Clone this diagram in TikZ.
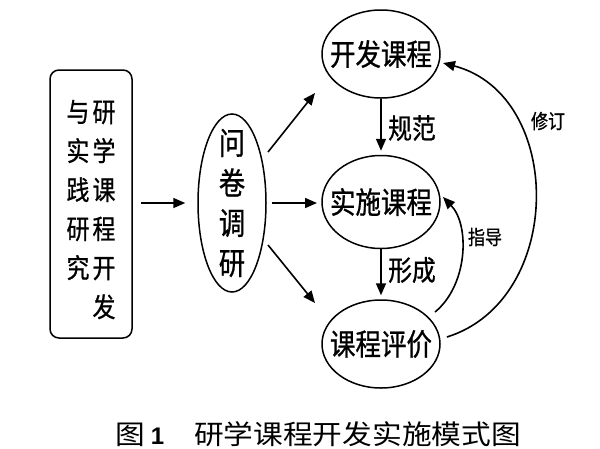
\documentclass[tikz,border=0pt]{standalone}
\usepackage{fontspec}
\setmainfont{Noto Sans CJK SC}[FakeStretch=0.85,UprightFeatures={FakeBold=0.8}]
\newfontfamily\capfont{Noto Sans CJK SC}[FakeStretch=1.1]
\newfontfamily\numfont{Liberation Sans}
\usetikzlibrary{shapes.geometric,arrows.meta,calc}
\begin{document}
\begin{tikzpicture}[x=1pt,y=-1pt,
  oval/.style={draw,ellipse,line width=1.5pt,inner sep=0pt,minimum width=118pt,minimum height=90pt},
  ovaltext/.style={inner sep=0pt,font=\fontsize{30}{36}\selectfont},
  coltext/.style={inner sep=0pt,align=center,font=\fontsize{27}{39}\selectfont},
  biglbl/.style={inner sep=0pt,font=\fontsize{28}{34}\selectfont},
  smalllbl/.style={inner sep=0pt,font=\fontsize{20}{24}\selectfont},
  arr/.style={line width=1.6pt,-{Triangle[length=12pt,width=10pt]}}]
\useasboundingbox (0,0) rectangle (600,448);
\fill[white] (0,0) rectangle (600,448);
% left box
\node[draw,rounded corners=9pt,line width=1.5pt,minimum width=82pt,minimum height=268pt,inner sep=0pt] (box) at (91,204) {};
\node[coltext] (colR) at (104,210) {研\\学\\课\\程\\开\\发};
\node[coltext] (colL) at (78,190) {与\\实\\践\\研\\究};
% survey ellipse
\node[draw,ellipse,line width=1.5pt,minimum width=68pt,minimum height=178pt,inner sep=0pt] (survey) at (232,203) {};
\node[coltext,font=\fontsize{31}{40}\selectfont] (surveyt) at (survey) {问\\卷\\调\\研};
% three ellipses
\node[oval,minimum height=88pt] (dev) at (381,54) {};
\node[ovaltext] (devt) at (dev) {开发课程};
\node[oval,minimum height=93pt] (impl) at (381,202) {};
\node[ovaltext] (implt) at (impl) {实施课程};
\node[oval,minimum height=88pt] (eval) at (381,344) {};
\node[ovaltext] (evalt) at (eval) {课程评价};
% labels
\node[biglbl] (l1) at (412,128) {规范};
\node[biglbl] (l2) at (412,270) {形成};
\node[smalllbl] (l3) at (485,237) {指导};
\node[smalllbl] (l4) at (548,121) {修订};
% arrows
\draw[arr] ($(box.east)+(8,-1)$) -- ($(survey.west)+(-12,0)$);
\draw[arr] ($(survey)+(36,-51)$) -- ($(dev)+(-66,39)$);
\draw[arr] ($(survey)+(40,0)$) -- ($(impl)+(-64,1)$);
\draw[arr] ($(survey)+(36,42)$) -- ($(eval)+(-66,-41)$);
\draw[arr] (dev.south) -- ($(impl.north)+(0,-4)$);
\draw[arr] (impl.south) -- ($(eval.north)+(0,-4)$);
\draw[arr] ($(eval)+(54,-32)$) .. controls (468,285) and (470,225) .. ($(impl)+(62,-5)$);
\draw[arr] ($(eval)+(66,-7)$) .. controls (565,300) and (565,95) .. ($(dev)+(62,9)$);
% caption
\node[inner sep=0pt,anchor=base] (cap) at (318,444) {{\capfont\fontsize{27}{30}\selectfont 图}\hspace{6pt}{\numfont\bfseries\fontsize{24}{30}\selectfont 1}\hspace{30pt}{\capfont\fontsize{27}{30}\selectfont 研学课程开发实施模式图}};
\end{tikzpicture}
\end{document}
